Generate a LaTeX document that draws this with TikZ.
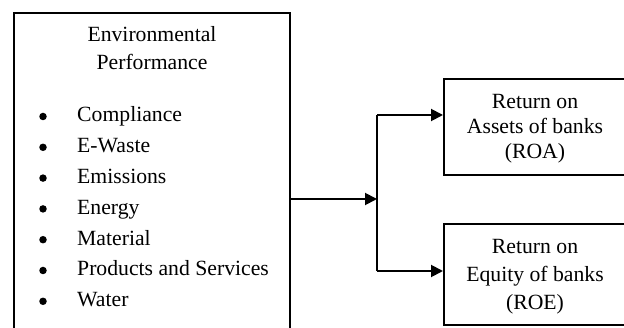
\documentclass[tikz,border=0pt]{standalone}
\usepackage{fontspec}
\setmainfont{Liberation Serif}
\usetikzlibrary{arrows.meta}
\begin{document}
\begin{tikzpicture}[x=1pt,y=-1pt,
  boxline/.style={draw=black,line width=1.6pt},
  arr/.style={line width=1.9pt,-{Triangle[length=12pt,width=12pt]}},
  conn/.style={line width=1.9pt},
  txt/.style={inner sep=0pt,anchor=base,font=\fontsize{21.7}{26}\selectfont},
  item/.style={inner sep=0pt,anchor=base west,font=\fontsize{21.7}{26}\selectfont},
  dot/.style={circle,fill=black,inner sep=0pt,minimum size=7.5pt}]
\useasboundingbox (0,0) rectangle (624,328);
\clip (0,0) rectangle (624,328);
\fill[white] (0,0) rectangle (624,328);
% boxes
\node[boxline,rectangle,minimum width=276pt,minimum height=324pt,inner sep=0pt,anchor=north west] (env) at (13,12) {};
\node[boxline,rectangle,minimum width=186pt,minimum height=96pt,inner sep=0pt,anchor=north west] (roa) at (443,78) {};
\node[boxline,rectangle,minimum width=186pt,minimum height=101pt,inner sep=0pt,anchor=north west] (roe) at (443,223) {};
% left text
\node[txt] (t1) at (152,42) {Environmental};
\node[txt] (t2) at (152,70) {Performance};
\foreach \y/\t [count=\i] in {122/Compliance,152.8/E-Waste,183.6/Emissions,214.4/Energy,245.2/Material,276/Products and Services,306.8/Water}{
  \node[dot] (b\i) at (43,\y-5.5) {};
  \node[item] (i\i) at (77,\y) {\t};
}
% right text
\node[txt] (r1) at (535,109) {Return on};
\node[txt] (r2) at (535,134) {Assets of banks};
\node[txt] (r3) at (535,159) {(ROA)};
\node[txt] (e1) at (535,254) {Return on};
\node[txt] (e2) at (535,282) {Equity of banks};
\node[txt] (e3) at (535,310) {(ROE)};
% connectors
\coordinate (j) at (377,199);
\coordinate (ja) at (377,115);
\coordinate (jb) at (377,271);
\draw[arr] (j -| env.east) -- (j);
\draw[conn] (ja) -- (jb);
\draw[arr] (ja) -- (ja -| roa.west);
\draw[arr] (jb) -- (jb -| roe.west);
\end{tikzpicture}
\end{document}
